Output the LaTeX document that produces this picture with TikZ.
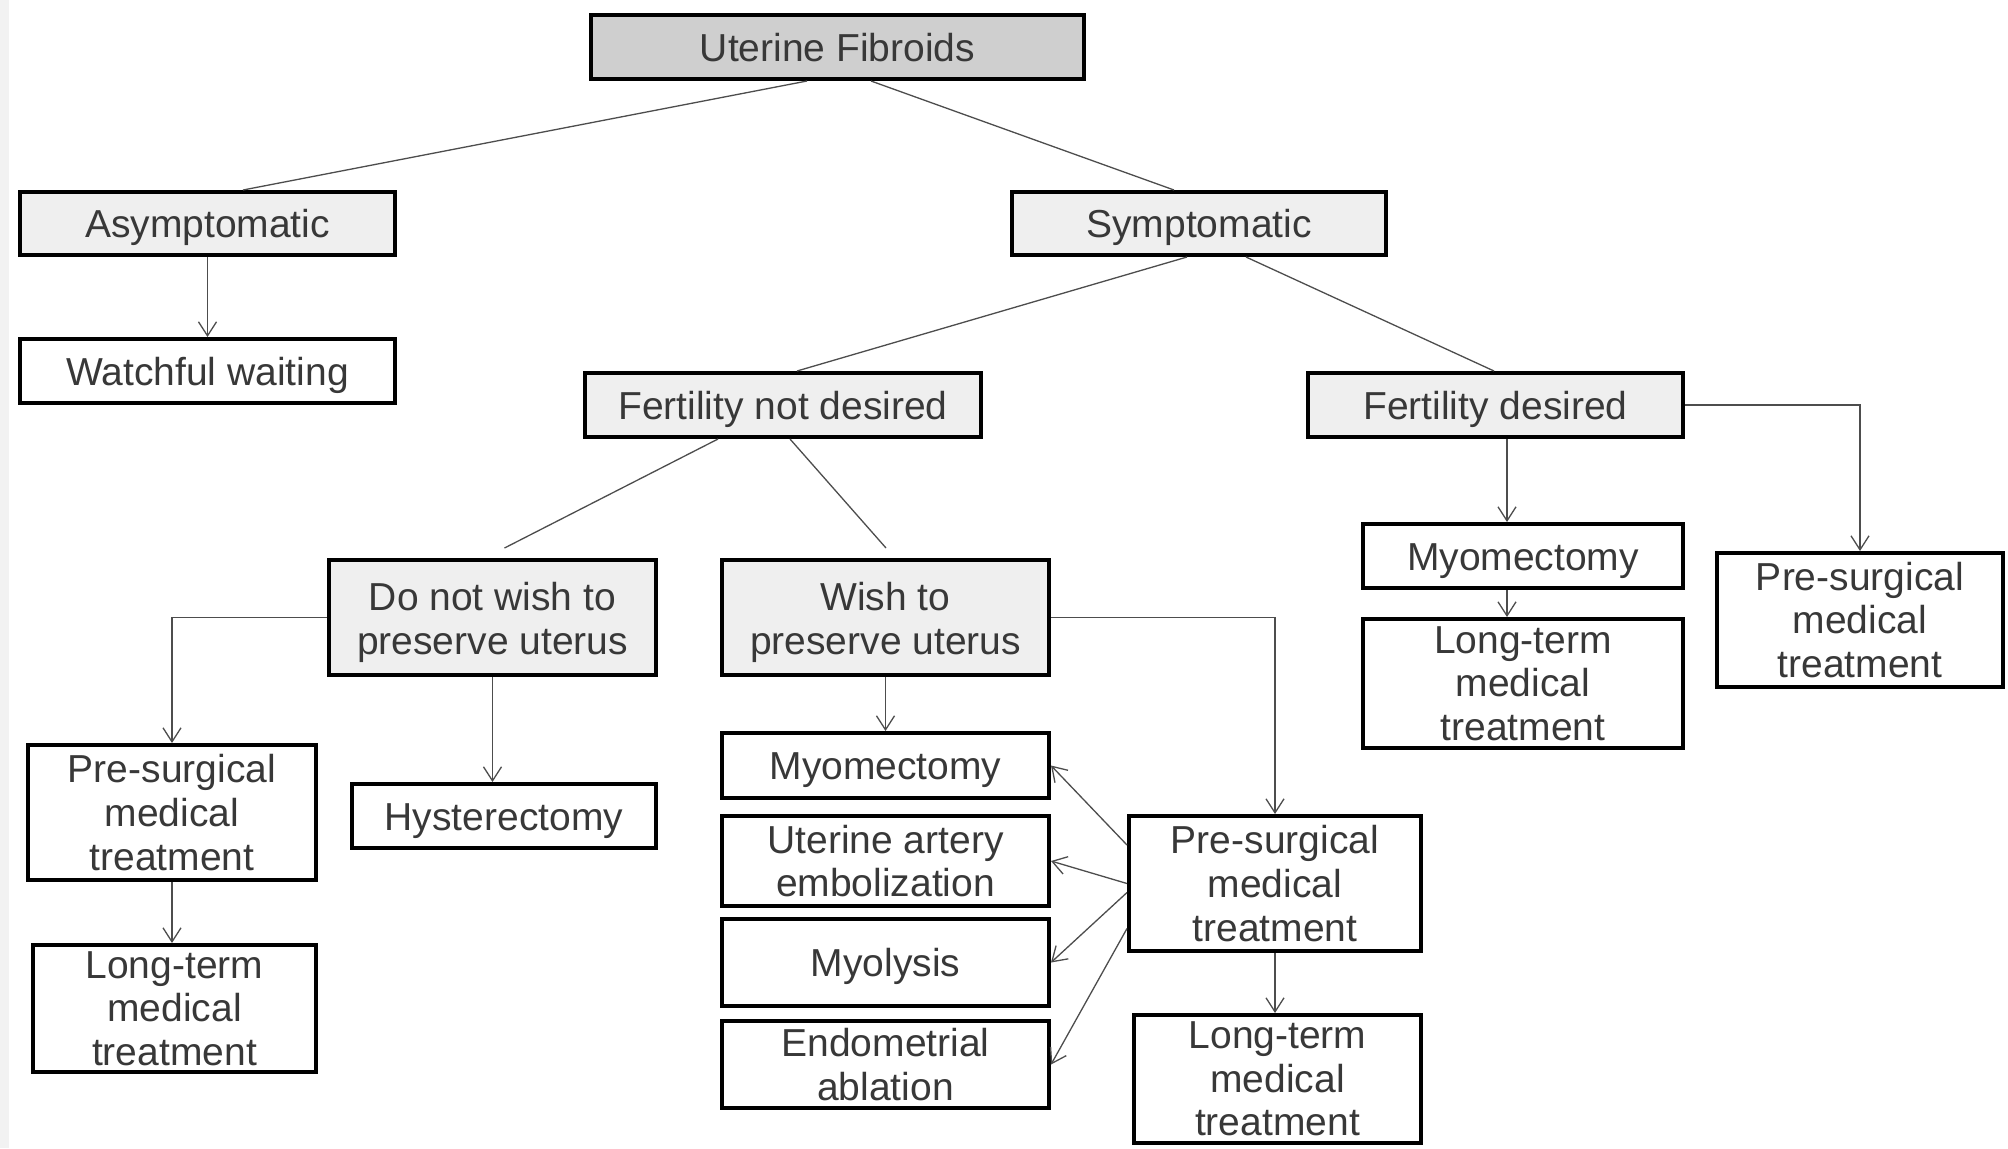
\documentclass[tikz,border=0pt]{standalone}
\usepackage{fontspec}
\setmainfont{Liberation Sans}
\usetikzlibrary{arrows.meta,calc}
\definecolor{txt}{HTML}{383838}
\definecolor{ln}{HTML}{4D4D4D}
\definecolor{hdr}{HTML}{CFCFCF}
\definecolor{lite}{HTML}{EFEFEF}
\definecolor{strip}{HTML}{F2F2F2}
\begin{document}
\begin{tikzpicture}[x=0.5pt,y=-0.5pt,
  box/.style={draw=black, line width=2.1pt, fill=white, text=txt, align=center, inner sep=0pt,
    font=\fontsize{19.5}{21.8}\selectfont},
  one/.style={text height=14pt, text depth=0pt},
  two/.style={text height=41pt, text depth=4pt},
  sz/.style 2 args={minimum width=#1*0.5pt-2.1pt, minimum height=#2*0.5pt-2.1pt},
  conn/.style={draw=ln, line width=0.65pt},
  arr/.style={conn, -{Straight Barb[length=7pt,width=9pt]}}]
\useasboundingbox (0,0) rectangle (2008,1148);
\fill[white] (0,0) rectangle (2008,1148);
\fill[strip] (0,0) rectangle (9,1148);

\node[box,one,fill=hdr,sz={497}{68}] (uf) at (837.5,47) {Uterine Fibroids};
\node[box,one,fill=lite,sz={379}{67}] (asym) at (207.5,223.5) {Asymptomatic};
\node[box,one,sz={379}{68}] (watch) at (207.5,371) {Watchful waiting};
\node[box,one,fill=lite,sz={378}{67}] (sym) at (1199,223.5) {Symptomatic};
\node[box,one,fill=lite,sz={400}{68}] (fnd) at (783,405) {Fertility not desired};
\node[box,one,fill=lite,sz={379}{68}] (fd) at (1495.5,405) {Fertility desired};
\node[box,two,fill=lite,sz={331}{119}] (dnw) at (492.5,617.5) {Do not wish to\\preserve uterus};
\node[box,two,fill=lite,sz={331}{119}] (wish) at (885.5,617.5) {Wish to\\preserve uterus};
\node[box,one,sz={324}{68}] (myofd) at (1523,556) {Myomectomy};
\node[box,sz={324}{133}] (ltfd) at (1523,683.5) {Long-term\\medical\\treatment};
\node[box,sz={290}{138}] (psfd) at (1860,620) {Pre-surgical\\medical\\treatment};
\node[box,sz={292}{139}] (psl) at (172,812.5) {Pre-surgical\\medical\\treatment};
\node[box,sz={287}{131}] (ltl) at (174.5,1008.5) {Long-term\\medical\\treatment};
\node[box,one,sz={308}{68}] (hyst) at (504,816) {Hysterectomy};
\node[box,one,sz={331}{69}] (myom) at (885.5,765.5) {Myomectomy};
\node[box,sz={331}{94}] (uae) at (885.5,861) {Uterine artery\\embolization};
\node[box,one,sz={331}{91}] (myol) at (885.5,962.5) {Myolysis};
\node[box,sz={331}{91}] (endo) at (885.5,1064.5) {Endometrial\\ablation};
\node[box,sz={296}{139}] (psm) at (1275,883.5) {Pre-surgical\\medical\\treatment};
\node[box,sz={291}{132}] (ltm) at (1277.5,1079) {Long-term\\medical\\treatment};

\draw[conn] ($(uf.south)+(-30.5,0)$) -- ($(asym.north)+(35.5,0)$);
\draw[conn] ($(uf.south)+(33.5,0)$) -- ($(sym.north)+(-25,0)$);
\draw[arr] (asym.south) -- (watch.north);
\draw[conn] ($(sym.south)+(-12,0)$) -- ($(fnd.north)+(14,0)$);
\draw[conn] ($(sym.south)+(47,0)$) -- ($(fd.north)+(-1.5,0)$);
\coordinate (dnwend) at ($(dnw.north)+(12,-10)$);
\coordinate (wishend) at ($(wish.north)+(0.5,-10)$);
\draw[conn] ($(fnd.south)+(-65,0)$) -- (dnwend);
\draw[conn] ($(fnd.south)+(7,0)$) -- (wishend);
\draw[arr] ($(fd.south)+(11.5,0)$) -- ($(myofd.north)+(-16,0)$);
\draw[arr] (fd.east) -| (psfd.north);
\draw[arr] (dnw.west) -| (psl.north);
\draw[arr] (dnw.south) -- (dnw.south |- hyst.north);
\draw[arr] (wish.south) -- (myom.north);
\draw[arr] (wish.east) -| (psm.north);
\draw[arr] ($(psm.west)+(0,-38.5)$) -- (myom.east);
\draw[arr] (psm.west) -- (uae.east);
\draw[arr] ($(psm.west)+(0,9)$) -- (myol.east);
\draw[arr] ($(psm.west)+(0,45)$) -- (endo.east);
\draw[arr] (psm.south) -- (psm.south |- ltm.north);
\draw[arr] (psl.south) -- (psl.south |- ltl.north);
\draw[arr] ($(myofd.south)+(-16,0)$) -- ($(ltfd.north)+(-16,0)$);
\end{tikzpicture}
\end{document}
